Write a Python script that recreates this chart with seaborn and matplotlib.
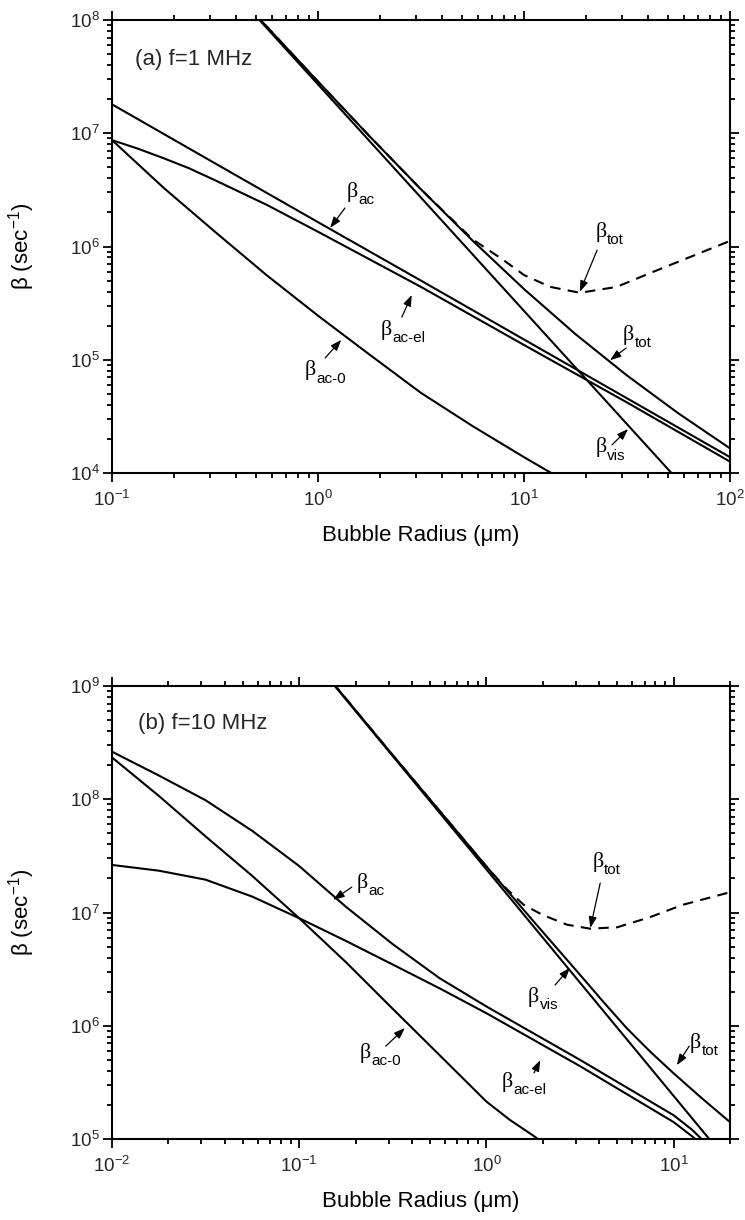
import numpy as np
import pandas as pd
import matplotlib
matplotlib.use("Agg")
import matplotlib.pyplot as plt
import seaborn as sns

# ---------------- data: panel (a) f = 1 MHz ----------------
R_a_ac = [0.1, 0.316, 1, 3.16, 10, 31.6, 100]
beta_a_ac = [1.8e7, 5.43e6, 1.64e6, 5.0e5, 1.51e5, 4.57e4, 1.38e4]

R_a_acel = [0.1, 0.133, 0.178, 0.237, 0.316, 0.562, 1, 3.16, 10, 31.6, 100]
beta_a_acel = [8.7e6, 7.33e6, 6.02e6, 4.9e6, 3.85e6, 2.34e6, 1.35e6, 4.4e5, 1.35e5, 4.2e4, 1.26e4]

R_a_ac0 = [0.1, 0.178, 0.316, 0.562, 1, 1.78, 3.16, 5.62, 10, 15.8]
beta_a_ac0 = [8.7e6, 3.3e6, 1.35e6, 5.6e5, 2.45e5, 1.11e5, 5.1e4, 2.6e4, 1.38e4, 8.5e3]

R_a_vis = [0.1, 1, 10, 100]
beta_a_vis = [2.7e9, 2.7e7, 2.7e5, 2.7e3]

R_a_tot = [0.1, 0.316, 0.562, 1, 1.78, 3.16, 5.62, 10, 17.8, 31.6, 56.2, 100]
beta_a_tot = [2.72e9, 2.75e8, 8.8e7, 2.86e7, 9.4e6, 3.2e6, 1.13e6, 4.21e5, 1.68e5, 7.27e4, 3.36e4, 1.65e4]

R_a_totd = [0.1, 0.316, 0.562, 1, 1.78, 3.16, 5.62, 7.94, 10, 13.4, 18.7, 28.2, 40.7, 58.9, 100]
beta_a_totd = [2.72e9, 2.75e8, 8.8e7, 2.86e7, 9.4e6, 3.2e6, 1.16e6, 7.6e5, 5.6e5, 4.4e5, 3.9e5, 4.4e5, 5.8e5, 7.6e5, 1.12e6]

# ---------------- data: panel (b) f = 10 MHz ----------------
R_b_ac = [0.01, 0.0178, 0.0316, 0.0562, 0.1, 0.178, 0.316, 0.562, 1, 3.16, 10, 12.6, 15.8]
beta_b_ac = [2.63e8, 1.62e8, 9.8e7, 5.25e7, 2.57e7, 1.12e7, 5.25e6, 2.63e6, 1.48e6, 5.0e5, 1.62e5, 1.2e5, 8.3e4]

R_b_acel = [0.01, 0.0178, 0.0316, 0.0562, 0.1, 0.178, 0.316, 0.562, 1, 3.16, 10, 12.6, 15.8]
beta_b_acel = [2.63e7, 2.34e7, 1.95e7, 1.38e7, 8.9e6, 5.6e6, 3.47e6, 2.14e6, 1.29e6, 4.4e5, 1.41e5, 1.05e5, 7.6e4]

R_b_ac0 = [0.01, 0.0178, 0.0316, 0.0562, 0.1, 0.178, 0.316, 0.562, 1, 1.33, 1.78, 2.51]
beta_b_ac0 = [2.34e8, 1.07e8, 4.7e7, 2.1e7, 8.9e6, 3.63e6, 1.41e6, 5.5e5, 2.14e5, 1.48e5, 1.07e5, 7.1e4]

R_b_vis = [0.01, 0.1, 1, 10, 20]
beta_b_vis = [2.4e11, 2.4e9, 2.4e7, 2.4e5, 6.0e4]

R_b_tot = [0.1, 0.316, 1, 1.78, 3.16, 4.22, 5.62, 7.5, 10, 14.1, 20]
beta_b_tot = [2.43e9, 2.45e8, 2.55e7, 8.4e6, 2.82e6, 1.62e6, 9.5e5, 5.9e5, 3.8e5, 2.3e5, 1.41e5]

R_b_totd = [0.1, 0.316, 1, 1.26, 1.58, 2.0, 2.7, 3.57, 4.99, 7.48, 11.2, 20]
beta_b_totd = [2.43e9, 2.45e8, 2.55e7, 1.66e7, 1.17e7, 9.5e6, 7.8e6, 7.2e6, 7.4e6, 9.1e6, 1.17e7, 1.51e7]

# ---------------- style ----------------
sns.set_theme(style="ticks")
plt.rcParams["font.family"] = ["Liberation Sans", "DejaVu Sans"]
plt.rcParams["mathtext.fontset"] = "custom"
plt.rcParams["mathtext.rm"] = "Liberation Sans"
plt.rcParams["mathtext.it"] = "Liberation Sans:italic"
plt.rcParams["mathtext.bf"] = "Liberation Sans:bold"
plt.rcParams["axes.linewidth"] = 1.5
plt.rcParams["axes.edgecolor"] = "black"

fig = plt.figure(figsize=(7.45, 12.2), dpi=100)
ax_a = fig.add_axes([112 / 745, 1 - 473 / 1220, 618 / 745, 453 / 1220])
ax_b = fig.add_axes([112 / 745, 1 - 1139 / 1220, 618 / 745, 453 / 1220])

LW = 1.5


def curve(ax, R, b, dashed=False):
    df = pd.DataFrame({"R": R, "beta": b})
    kw = dict(color="black", linewidth=LW, ax=ax, sort=True, estimator=None)
    if dashed:
        kw["linestyle"] = (0, (5, 3.5))
    sns.lineplot(data=df, x="R", y="beta", **kw)


def blabel(ax, x, y, sub, tail, tip):
    ax.text(x, y, "β", transform=ax.transAxes, fontsize=16,
            family="Liberation Serif", ha="left", va="center", color="black")
    ax.annotate(sub, xy=(x, y), xycoords="axes fraction", xytext=(8.5, -6),
                textcoords="offset points", fontsize=11, ha="left",
                va="center", color="black")
    ax.annotate("", xy=tip, xytext=tail, xycoords="axes fraction",
                textcoords="axes fraction",
                arrowprops=dict(arrowstyle="-|>,head_length=0.55,head_width=0.2",
                                color="black", lw=0.9, shrinkA=0, shrinkB=0))


def style_axes(ax, xlim, ylim):
    ax.set_xscale("log")
    ax.set_yscale("log")
    ax.set_xlim(*xlim)
    ax.set_ylim(*ylim)
    ax.tick_params(which="both", direction="out", top=True, right=True,
                   labeltop=False, labelright=False, color="black", width=1.3)
    ax.tick_params(which="major", length=6.5, labelsize=13.5, pad=2)
    ax.tick_params(which="minor", length=3.8)
    ax.tick_params(axis="x", which="major", pad=6)
    ax.set_xlabel("Bubble Radius (μm)", fontsize=16, color="black")
    ax.set_ylabel("β (sec$^{-1}$)", fontsize=16, color="black")
    ax.xaxis.set_label_coords(0.5, -0.115)
    ax.yaxis.set_label_coords(-0.121, 0.5)
    for s in ax.spines.values():
        s.set_linewidth(1.5)
        s.set_color("black")
    ax.grid(False)


# ---------------- panel (a) ----------------
curve(ax_a, R_a_ac, beta_a_ac)
curve(ax_a, R_a_acel, beta_a_acel)
curve(ax_a, R_a_ac0, beta_a_ac0)
curve(ax_a, R_a_vis, beta_a_vis)
curve(ax_a, R_a_tot, beta_a_tot)
curve(ax_a, R_a_totd, beta_a_totd, dashed=True)
style_axes(ax_a, (0.1, 100), (1e4, 1e8))
ax_a.text(0.037, 0.912, "(a) f=1 MHz", transform=ax_a.transAxes,
          fontsize=16, ha="left", va="center")
blabel(ax_a, 0.380, 0.620, "ac", (0.377, 0.585), (0.353, 0.541))
blabel(ax_a, 0.782, 0.532, "tot", (0.785, 0.492), (0.757, 0.400))
blabel(ax_a, 0.434, 0.316, "ac-el", (0.469, 0.344), (0.485, 0.393))
blabel(ax_a, 0.827, 0.305, "tot", (0.832, 0.276), (0.806, 0.249))
blabel(ax_a, 0.782, 0.057, "vis", (0.809, 0.062), (0.835, 0.097))
blabel(ax_a, 0.312, 0.227, "ac-0", (0.345, 0.254), (0.371, 0.294))

# ---------------- panel (b) ----------------
curve(ax_b, R_b_ac, beta_b_ac)
curve(ax_b, R_b_acel, beta_b_acel)
curve(ax_b, R_b_ac0, beta_b_ac0)
curve(ax_b, R_b_vis, beta_b_vis)
curve(ax_b, R_b_tot, beta_b_tot)
curve(ax_b, R_b_totd, beta_b_totd, dashed=True)
style_axes(ax_b, (0.01, 20), (1e5, 1e9))
ax_b.text(0.042, 0.918, "(b) f=10 MHz", transform=ax_b.transAxes,
          fontsize=16, ha="left", va="center")
blabel(ax_b, 0.396, 0.565, "ac", (0.388, 0.556), (0.358, 0.528))
blabel(ax_b, 0.777, 0.612, "tot", (0.790, 0.565), (0.774, 0.466))
blabel(ax_b, 0.673, 0.314, "vis", (0.717, 0.340), (0.741, 0.378))
blabel(ax_b, 0.935, 0.212, "tot", (0.934, 0.205), (0.914, 0.163))
blabel(ax_b, 0.631, 0.126, "ac-el", (0.683, 0.146), (0.693, 0.174))
blabel(ax_b, 0.401, 0.190, "ac-0", (0.443, 0.205), (0.474, 0.245))

fig.savefig("out.png", dpi=100, facecolor="white")
